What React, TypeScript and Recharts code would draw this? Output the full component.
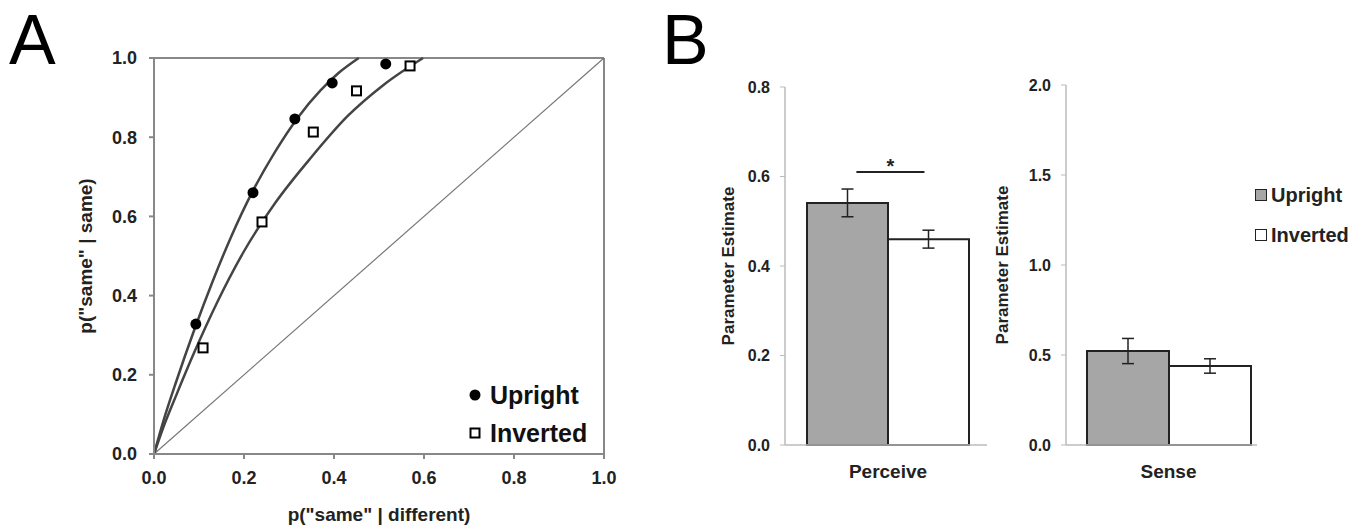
import React from 'react';
import {
  ComposedChart, Line, Scatter, XAxis, YAxis, ReferenceLine, Legend, Label,
  BarChart, Bar, ErrorBar,
} from 'recharts';

// Panel A - observed ROC points
const uprightX = [0.093, 0.22, 0.313, 0.396, 0.515];
const uprightY = [0.328, 0.66, 0.846, 0.937, 0.985];
const invertedX = [0.109, 0.24, 0.354, 0.45, 0.569];
const invertedY = [0.268, 0.586, 0.813, 0.917, 0.98];

// Panel A - fitted curves
const uprightCurveX = [0, 0.02, 0.05, 0.09, 0.13, 0.17, 0.22, 0.27, 0.32, 0.37, 0.41, 0.455];
const uprightCurveY = [0, 0.08, 0.185, 0.315, 0.435, 0.545, 0.665, 0.765, 0.85, 0.918, 0.962, 1.0];
const invertedCurveX = [0, 0.02, 0.05, 0.09, 0.14, 0.2, 0.27, 0.35, 0.43, 0.51, 0.598];
const invertedCurveY = [0, 0.065, 0.15, 0.258, 0.382, 0.512, 0.635, 0.75, 0.853, 0.932, 1.0];

const rocTicks = [0, 0.2, 0.4, 0.6, 0.8, 1.0];

// Panel B - parameter estimates
const categories = ['Perceive', 'Sense'];
const uprightMeans = [0.541, 0.522];
const uprightErrs = [0.031, 0.07];
const invertedMeans = [0.46, 0.439];
const invertedErrs = [0.02, 0.04];
const perceiveTicks = [0, 0.2, 0.4, 0.6, 0.8];
const senseTicks = [0, 0.5, 1.0, 1.5, 2.0];

const seriesNames = ['Upright', 'Inverted'];

// significance bracket over Perceive: level in data units, ends as fraction of bar width
const sigLevel = 0.61;
const sigFrom = 0.61;
const sigTo = 1.45;

const toPts = (xs: number[], ys: number[]) => xs.map((x, i) => ({ x, y: ys[i] }));
const uprightPts = toPts(uprightX, uprightY);
const invertedPts = toPts(invertedX, invertedY);
const uprightCurve = toPts(uprightCurveX, uprightCurveY);
const invertedCurve = toPts(invertedCurveX, invertedCurveY);

const barRows = categories.map((name, i) => ({
  name,
  upright: uprightMeans[i],
  uprightErr: uprightErrs[i],
  inverted: invertedMeans[i],
  invertedErr: invertedErrs[i],
}));

const INK = '#222';
const AXIS_A = '#888';
const AXIS_B = '#bbb';
const GREY_BAR = '#a6a6a6';
const fmt = (v: number) => v.toFixed(1);

const Dot = (p: any) => <circle cx={p.cx} cy={p.cy} r={5.5} fill="#000" />;
const Box = (p: any) => (
  <rect x={p.cx - 4.5} y={p.cy - 4.5} width={9} height={9} fill="#fff" stroke="#000" strokeWidth={2} />
);

// drawn from the Upright bar's own geometry
const SigBracket = (p: any) => {
  const x = Number(p.x), y = Number(p.y), w = Number(p.width), h = Number(p.height);
  const v = Number(p.value);
  if (!h || !v) return null;
  const ly = y + h - (sigLevel * h) / v;
  const x1 = x + w * sigFrom;
  const x2 = x + w * sigTo;
  return (
    <g>
      <line x1={x1} y1={ly} x2={x2} y2={ly} stroke={INK} strokeWidth={2} />
      <text x={(x1 + x2) / 2} y={ly + 1} textAnchor="middle" fontSize={20} fontWeight="bold" fill={INK}>*</text>
    </g>
  );
};

const LegendA = () => (
  <div style={{ fontSize: 25, fontWeight: 'bold', color: '#111', lineHeight: '38px' }}>
    <div style={{ display: 'flex', alignItems: 'center' }}>
      <svg width={22} height={14}><circle cx={7} cy={7} r={5.5} fill="#000" /></svg>
      <span>{seriesNames[0]}</span>
    </div>
    <div style={{ display: 'flex', alignItems: 'center' }}>
      <svg width={22} height={14}><rect x={2.5} y={2.5} width={9} height={9} fill="#fff" stroke="#000" strokeWidth={2} /></svg>
      <span>{seriesNames[1]}</span>
    </div>
  </div>
);

const LegendB = () => (
  <div style={{ fontSize: 20, fontWeight: 'bold', color: INK, lineHeight: '40px' }}>
    {seriesNames.map((n, i) => (
      <div key={n} style={{ display: 'flex', alignItems: 'center' }}>
        <span style={{
          display: 'inline-block', width: 10, height: 10, marginRight: 4,
          background: i === 0 ? GREY_BAR : '#fff', border: `1.5px solid ${INK}`,
        }} />
        <span>{n}</span>
      </div>
    ))}
  </div>
);

const tickA = { fontSize: 18, fontWeight: 'bold', fill: INK };
const tickB = { fontSize: 16, fontWeight: 'bold', fill: INK };
const yLabelB = { textAnchor: 'middle', fontSize: 17, fontWeight: 'bold', fill: INK } as any;
const panelLetter = { position: 'absolute', top: 5, fontSize: 70, lineHeight: '70px', color: '#000' } as const;

const App: React.FC = () => {
  return (
    <div style={{
      position: 'absolute', left: 0, top: 0, width: 1369, height: 529, background: '#fff',
      fontFamily: '"Liberation Sans", Arial, sans-serif',
    }}>
      <div style={{ ...panelLetter, left: 9 }}>A</div>
      <div style={{ ...panelLetter, left: 662 }}>B</div>

      {/* Panel A: ROC */}
      <div style={{ position: 'absolute', left: 0, top: 0 }}>
        <ComposedChart width={640} height={529} margin={{ top: 58, right: 36, bottom: 0, left: 0 }}>
          <XAxis
            type="number" dataKey="x" domain={[0, 1]} ticks={rocTicks} tickFormatter={fmt}
            height={75} stroke={AXIS_A} strokeWidth={2} tickSize={5} tickMargin={12} tick={tickA}
          >
            <Label value={'p("same" | different)'} position="insideBottom" offset={8}
              style={{ fontSize: 19, fontWeight: 'bold', fill: INK }} />
          </XAxis>
          <YAxis
            type="number" domain={[0, 1]} ticks={rocTicks} tickFormatter={fmt}
            width={154} stroke={AXIS_A} strokeWidth={2} tickSize={5} tickMargin={12} tick={tickA}
          >
            <Label value={'p("same" | same)'} angle={-90} position="insideLeft" offset={85}
              style={{ textAnchor: 'middle', fontSize: 19, fontWeight: 'bold', fill: INK }} />
          </YAxis>
          <ReferenceLine y={1} stroke={AXIS_A} strokeWidth={2} />
          <ReferenceLine x={1} stroke={AXIS_A} strokeWidth={2} />
          <ReferenceLine segment={[{ x: 0, y: 0 }, { x: 1, y: 1 }]} stroke="#777" strokeWidth={1.2} />
          <Line data={uprightCurve} dataKey="y" type="monotone" dot={false} stroke="#444"
            strokeWidth={2.5} isAnimationActive={false} legendType="none" />
          <Line data={invertedCurve} dataKey="y" type="monotone" dot={false} stroke="#444"
            strokeWidth={2.5} isAnimationActive={false} legendType="none" />
          <Scatter name={seriesNames[0]} data={uprightPts} dataKey="y" shape={Dot} isAnimationActive={false} />
          <Scatter name={seriesNames[1]} data={invertedPts} dataKey="y" shape={Box} isAnimationActive={false} />
          <Legend layout="vertical" align="center" verticalAlign="middle" content={() => <LegendA />}
            wrapperStyle={{ left: 468, top: 376, width: 170 }} />
        </ComposedChart>
      </div>

      {/* Panel B: Perceive */}
      <div style={{ position: 'absolute', left: 700, top: 60 }}>
        <BarChart width={300} height={469} data={barRows.slice(0, 1)} barGap={0}
          margin={{ top: 27, right: 13, bottom: 0, left: 0 }}>
          <XAxis dataKey="name" height={84} axisLine={{ stroke: AXIS_B, strokeWidth: 1.5 }} tickLine={false}
            tickSize={0} tickMargin={20} padding={{ left: 4, right: 0 }}
            tick={{ fontSize: 19, fontWeight: 'bold', fill: INK }} />
          <YAxis domain={[0, 0.8]} ticks={perceiveTicks} tickFormatter={fmt} width={85}
            axisLine={{ stroke: AXIS_B, strokeWidth: 1.5 }} tickLine={{ stroke: AXIS_B }}
            tickSize={5} tickMargin={10} tick={tickB}>
            <Label value="Parameter Estimate" angle={-90} position="insideLeft" offset={28} style={yLabelB} />
          </YAxis>
          <Bar dataKey="upright" name={seriesNames[0]} barSize={81} fill={GREY_BAR} stroke={INK}
            strokeWidth={2} isAnimationActive={false} label={SigBracket}>
            <ErrorBar dataKey="uprightErr" width={6} stroke={INK} strokeWidth={1.5} direction="y" />
          </Bar>
          <Bar dataKey="inverted" name={seriesNames[1]} barSize={81} fill="#fff" stroke={INK}
            strokeWidth={2} isAnimationActive={false}>
            <ErrorBar dataKey="invertedErr" width={6} stroke={INK} strokeWidth={1.5} direction="y" />
          </Bar>
        </BarChart>
      </div>

      {/* Panel B: Sense */}
      <div style={{ position: 'absolute', left: 990, top: 60 }}>
        <BarChart width={379} height={469} data={barRows.slice(1, 2)} barGap={0}
          margin={{ top: 25, right: 112, bottom: 0, left: 0 }}>
          <XAxis dataKey="name" height={84} axisLine={{ stroke: AXIS_B, strokeWidth: 1.5 }} tickLine={false}
            tickSize={0} tickMargin={20} padding={{ left: 14, right: 0 }}
            tick={{ fontSize: 19, fontWeight: 'bold', fill: INK }} />
          <YAxis domain={[0, 2]} ticks={senseTicks} tickFormatter={fmt} width={76}
            axisLine={{ stroke: AXIS_B, strokeWidth: 1.5 }} tickLine={{ stroke: AXIS_B }}
            tickSize={5} tickMargin={10} tick={tickB}>
            <Label value="Parameter Estimate" angle={-90} position="insideLeft" offset={12} style={yLabelB} />
          </YAxis>
          <Bar dataKey="upright" name={seriesNames[0]} barSize={82} fill={GREY_BAR} stroke={INK}
            strokeWidth={2} isAnimationActive={false}>
            <ErrorBar dataKey="uprightErr" width={6} stroke={INK} strokeWidth={1.5} direction="y" />
          </Bar>
          <Bar dataKey="inverted" name={seriesNames[1]} barSize={82} fill="#fff" stroke={INK}
            strokeWidth={2} isAnimationActive={false}>
            <ErrorBar dataKey="invertedErr" width={6} stroke={INK} strokeWidth={1.5} direction="y" />
          </Bar>
          <Legend layout="vertical" align="center" verticalAlign="middle" content={() => <LegendB />}
            wrapperStyle={{ left: 265, top: 115, width: 114 }} />
        </BarChart>
      </div>
    </div>
  );
};

export default App;
